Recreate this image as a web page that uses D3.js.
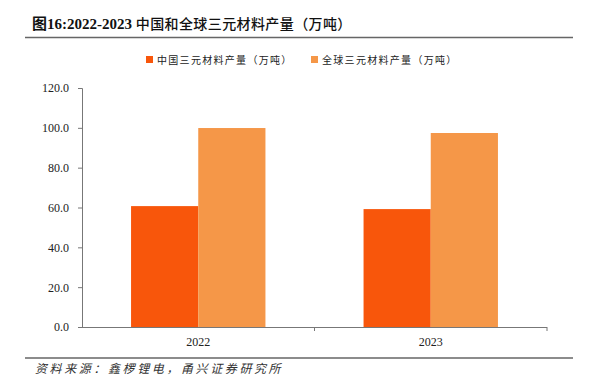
<!DOCTYPE html>
<html><head><meta charset="utf-8">
<script src="https://cdn.jsdelivr.net/npm/d3@7"></script>
<style>body{margin:0;background:#fff}svg{display:block}</style>
</head><body>
<script>
const categories = ["2022", "2023"];
const seriesNames = ["中国三元材料产量（万吨）", "全球三元材料产量（万吨）"];
const chinaValues = [60.7, 59.2];
const globalValues = [99.9, 97.4];
const yTicks = [0, 20, 40, 60, 80, 100, 120];
const colors = ["#F8560B", "#F59748"];
const titlePrefix = "图16:2022-2023 ";
const titleRest = "中国和全球三元材料产量（万吨）";
const source = "资料来源：鑫椤锂电，甬兴证券研究所";

const W = 592, H = 392;
const svg = d3.select("body").append("svg").attr("width", W).attr("height", H);
const serif = "'Liberation Serif','DejaVu Serif','Noto Sans CJK SC',serif";

const t = svg.append("text").attr("x", 32).attr("y", 29).attr("font-family", serif)
  .attr("font-size", 15).attr("fill", "#111");
t.append("tspan").attr("font-weight", "bold").text(titlePrefix);
t.append("tspan").attr("font-size", 14).attr("letter-spacing", 0.4).attr("font-weight", "500").text(titleRest);
svg.append("line").attr("x1", 25).attr("x2", 573).attr("y1", 37.5).attr("y2", 37.5)
  .attr("stroke", "#666").attr("stroke-width", 1.5);
svg.append("line").attr("x1", 25).attr("x2", 573).attr("y1", 358).attr("y2", 358)
  .attr("stroke", "#666").attr("stroke-width", 1.5);
svg.append("text").attr("x", 35).attr("y", 373).attr("font-family", serif)
  .attr("font-style", "italic").attr("font-size", 12).attr("letter-spacing", 2.6)
  .attr("fill", "#333").text(source);

const m = {left: 82, right: 547, top: 88, bottom: 327};
const x0 = d3.scaleBand().domain(categories).range([m.left, m.right]).paddingInner(0).paddingOuter(0);
const x1 = d3.scaleBand().domain([0, 1]).range([0, x0.bandwidth()]).paddingInner(0).paddingOuter(0.73);
const y = d3.scaleLinear().domain([0, 120]).range([m.bottom, m.top]);

const data = categories.map((c, i) => ({c, vals: [chinaValues[i], globalValues[i]]}));
const g = svg.append("g");
data.forEach(d => {
  d.vals.forEach((v, j) => {
    g.append("rect").attr("x", x0(d.c) + x1(j)).attr("y", y(v))
      .attr("width", x1.bandwidth()).attr("height", y(0) - y(v)).attr("fill", colors[j]);
  });
});

const yAxis = d3.axisLeft(y).tickValues(yTicks).tickFormat(d3.format(".1f")).tickSize(4).tickPadding(9);
const ya = svg.append("g").attr("transform", `translate(${m.left},0)`).call(yAxis);
ya.selectAll("text").attr("font-family", serif).attr("font-size", 12).attr("fill", "#222");
ya.selectAll("line,path").attr("stroke", "#777");

const xAxis = d3.axisBottom(x0).tickSize(0).tickPadding(10);
const xa = svg.append("g").attr("transform", `translate(0,${m.bottom})`).call(xAxis);
xa.select("path").remove();
xa.selectAll("text").attr("font-family", serif).attr("font-size", 12).attr("fill", "#222");
svg.append("line").attr("x1", m.left).attr("x2", m.right).attr("y1", m.bottom + 0.5).attr("y2", m.bottom + 0.5)
  .attr("stroke", "#777").attr("stroke-width", 1.2);
[x0.range()[0] + x0.bandwidth(), m.right].forEach(xx => {
  svg.append("line").attr("x1", xx).attr("x2", xx).attr("y1", m.bottom).attr("y2", m.bottom + 4)
    .attr("stroke", "#777");
});

const legX = [146, 311];
seriesNames.forEach((n, i) => {
  svg.append("rect").attr("x", legX[i]).attr("y", 56).attr("width", 7).attr("height", 7).attr("fill", colors[i]);
  svg.append("text").attr("x", legX[i] + 11).attr("y", 63.5).attr("font-family", "'Noto Sans CJK SC',sans-serif")
    .attr("font-size", 10).attr("letter-spacing", 1.3).attr("fill", "#222").text(n);
});
</script>
</body></html>
